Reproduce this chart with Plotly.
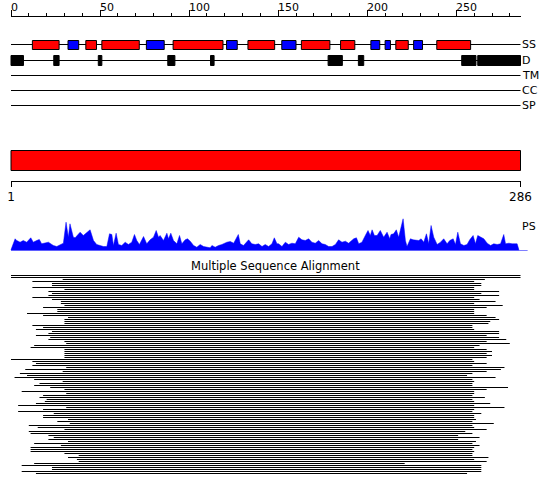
import plotly.graph_objects as go

# ---------------- data ----------------
SEQ_LEN = 286

track_names = ["SS", "D", "TM", "CC", "SP"]

helix_start = [13, 43, 52, 92, 134, 164, 186, 217, 240]
helix_end = [27, 48, 72, 119, 148, 179, 193, 223, 258]
strand_start = [33, 77, 122, 153, 203, 211, 227]
strand_end = [38, 86, 127, 160, 207, 213, 231]
disorder_start = [1, 25, 50, 89, 113, 179, 196, 254, 263]
disorder_end = [7, 27, 51, 92, 114, 186, 198, 261, 286]

ruler_major = [0, 50, 100, 150, 200, 250]
ruler_minor = [10, 20, 30, 40, 60, 70, 80, 90, 110, 120, 130, 140, 160, 170, 180,
               190, 210, 220, 230, 240, 260, 270, 280]
range_ticks = [0, SEQ_LEN]
range_labels = ["1", "286"]

ps_pos = [0.0, 2.3, 3.2, 5.1, 6.9, 8.8, 11.1, 12.5, 14.4, 15.9, 17.2, 19.1, 21.0, 22.9,
          23.8, 25.7, 27.5, 29.4, 30.9, 32.2, 33.1, 34.1, 35.0, 36.0, 37.3, 38.8, 40.6,
          42.1, 44.4, 46.3, 48.1, 50.0, 51.9, 53.8, 55.3, 56.6, 57.5, 59.0, 60.3, 62.2,
          64.1, 65.9, 67.8, 69.3, 70.6, 72.1, 74.4, 76.2, 78.1, 80.0, 81.5, 82.8, 83.7,
          85.6, 87.5, 88.4, 89.7, 91.2, 93.1, 94.6, 95.9, 97.8, 99.1, 100.6, 102.5, 104.3,
          106.2, 108.1, 110.0, 111.8, 112.8, 114.6, 116.5, 118.4, 121.2, 123.1, 125.0,
          127.6, 128.7, 130.5, 133.4, 135.2, 137.1, 139.0, 140.9, 142.7, 144.6, 146.5,
          147.8, 149.3, 150.2, 152.1, 154.0, 155.8, 157.7, 159.6, 161.5, 163.3, 165.2,
          167.1, 168.9, 170.8, 172.7, 174.6, 176.4, 178.3, 180.2, 182.1, 183.9, 185.8,
          187.7, 189.5, 192.4, 193.9, 195.2, 197.0, 198.9, 200.4, 201.7, 202.7, 204.0,
          205.5, 207.3, 209.2, 211.1, 212.6, 213.3, 214.8, 216.3, 217.6, 220.1, 221.4,
          222.3, 224.2, 225.7, 227.6, 228.9, 230.2, 231.7, 233.2, 234.5, 235.8, 237.3,
          239.2, 241.1, 242.9, 244.8, 246.3, 248.2, 249.5, 250.8, 252.3, 254.2, 256.0,
          257.5, 259.4, 260.7, 262.0, 263.5, 265.4, 267.3, 269.2, 271.0, 272.9, 274.8,
          276.6, 277.6, 279.5, 281.3, 284.1, 285.1]
ps_val = [0.7, 11.7, 10, 8.3, 10, 8.3, 12.7, 8.3, 10, 11, 6.7, 7.3, 8.3, 6,
          5, 4, 6, 7.3, 28.3, 13.3, 26.7, 18.3, 13.3, 12.7, 15, 18.3, 15,
          17.3, 20.7, 10, 6, 5, 4, 4, 16.7, 16, 5, 17.3, 6, 5,
          8.3, 6, 8.3, 16, 10, 6, 14, 6.7, 10.7, 13.3, 20, 13.3, 15,
          10, 17.3, 11.7, 17.3, 10, 6.7, 15, 6.7, 10.7, 11.7, 9.3, 5, 3.3,
          6, 4, 3.3, 2.7, 5, 3.3, 5, 6, 8.3, 9, 7.3,
          16, 6.7, 5, 10.7, 6.7, 6, 6.7, 4, 6, 4, 6.7,
          12.7, 6.7, 6.7, 4, 8.3, 6, 7.3, 6.7, 13.3, 10.7, 10,
          11.7, 8.3, 7.3, 10, 6.7, 6, 4, 4, 6, 10.7, 8.3,
          9.3, 7.3, 11.7, 12.7, 6.7, 8.3, 15, 20, 15, 20.7, 15,
          15, 20, 13.3, 18.3, 11.7, 16, 16.7, 20.7, 13.3, 31.7, 10,
          4, 11.7, 10.7, 10, 10, 11.7, 8.3, 16.7, 6.7, 25, 13.3,
          6, 8.3, 11.7, 6.7, 10, 11.7, 6, 18.3, 6.7, 5, 6,
          10.7, 15, 6.7, 15, 13.3, 11.7, 7.3, 5, 6.7, 6, 6.7,
          16, 6.7, 7.3, 6.7, 6.7, 0.7]

msa_start = [1, 1, 30, 13, 24, 24, 13, 31, 22, 24, 22, 13, 24, 29, 29, 31, 19, 27, 27, 10,
             19, 33, 31, 31, 31, 13, 19, 15, 24, 22, 15, 23, 22, 31, 32, 14, 12, 31, 31, 31,
             31, 31, 1, 13, 15, 13, 32, 9, 30, 6,
             10, 3, 14, 30, 17, 14, 23, 31, 7, 32, 19, 17, 21, 20, 15, 5, 32, 19, 5, 25,
             19, 19, 33, 27, 34, 11, 16, 31, 11, 12, 22, 25, 22, 33, 14, 29, 12, 12, 12, 31,
             39, 33, 38, 39, 14, 7, 24, 24, 7, 15]
msa_end = [286, 286, 266, 260, 264, 264, 260, 260, 274, 264, 274, 260, 263, 272, 260, 276,
           267, 260, 260, 260, 267, 272, 274, 269, 268, 259, 259, 260, 274, 274, 267, 274,
           278, 267, 280, 263, 260, 267, 270, 267, 270, 267, 259, 260, 267, 259, 277, 275,
           267, 259,
           256, 272, 259, 260, 259, 259, 279, 267, 260, 260, 259, 266, 259, 260, 269, 260,
           277, 260, 259, 264, 260, 260, 261, 259, 271, 259, 260, 267, 255, 259, 251, 263,
           251, 261, 259, 263, 260, 259, 260, 259, 259, 268, 260, 267, 221, 264, 264, 264,
           264, 256]

# ---------------- layout constants (pixels) ----------------
W, H = 550, 495
X0_PX, X1_PX = 11.0, 520.5
PX_PER_RES = (X1_PX - X0_PX) / SEQ_LEN
X_RANGE = [-X0_PX / PX_PER_RES, (W - X0_PX) / PX_PER_RES]
RULER_Y = 15.5
TRACK_Y = [44.5, 60.5, 75.5, 90.5, 105.5]
SS_BOX = (40.5, 49.5)
D_BOX = (55.5, 65.5)
BAR_BOX = (150.5, 170.5)
RANGE_Y = 180.5
PS_BASE, PS_TOP, PS_MAX = 250.5, 210.5, 40
PS_BASE_END = 290
PS_LABEL_Y = 226.5
MSA_TITLE_Y = 265.5
MSA_TOP, MSA_ROW_PX = 274.5, 2
FONT = "DejaVu Sans"
RED, BLUE, BLACK = "#ff0000", "#0000ff", "#000000"


def frac(py):
    return 1 - py / H


fig = go.Figure()

# track lines
for name, ty in zip(track_names, TRACK_Y):
    fig.add_trace(go.Scatter(x=[0, SEQ_LEN], y=[ty, ty], mode="lines",
                             line=dict(color=BLACK, width=1), hoverinfo="skip",
                             showlegend=False))
    fig.add_annotation(x=SEQ_LEN, y=ty, xref="x", yref="y", text=name, showarrow=False,
                       xanchor="left", yanchor="middle", xshift=-1,
                       font=dict(family=FONT, size=11, color=BLACK))

shapes = []
for s, e in zip(helix_start, helix_end):
    shapes.append(dict(type="rect", xref="x", yref="y", x0=s - 1, x1=e, y0=SS_BOX[0],
                       y1=SS_BOX[1], fillcolor=RED, line=dict(color=BLACK, width=1)))
for s, e in zip(strand_start, strand_end):
    shapes.append(dict(type="rect", xref="x", yref="y", x0=s - 1, x1=e, y0=SS_BOX[0],
                       y1=SS_BOX[1], fillcolor=BLUE, line=dict(color=BLACK, width=1)))
for s, e in zip(disorder_start, disorder_end):
    shapes.append(dict(type="rect", xref="x", yref="y", x0=s - 1, x1=e, y0=D_BOX[0],
                       y1=D_BOX[1], fillcolor=BLACK, line=dict(color=BLACK, width=1)))
shapes.append(dict(type="rect", xref="x", yref="y", x0=0, x1=SEQ_LEN, y0=BAR_BOX[0],
                   y1=BAR_BOX[1], fillcolor=RED, line=dict(color=BLACK, width=1)))

# top ruler labels
for v in ruler_major:
    fig.add_annotation(x=v, y=7, xref="x2", yref="y", text=str(v), showarrow=False,
                       xanchor="left", yanchor="middle", xshift=-2,
                       font=dict(family=FONT, size=11, color=BLACK))

# dummy traces to bind ruler axes
fig.add_trace(go.Scatter(x=[0, SEQ_LEN], y=[None, None], xaxis="x2", yaxis="y",
                         mode="lines", showlegend=False, hoverinfo="skip"))
fig.add_trace(go.Scatter(x=[0, SEQ_LEN], y=[None, None], xaxis="x3", yaxis="y",
                         mode="lines", showlegend=False, hoverinfo="skip"))

# PS profile
fig.add_trace(go.Scatter(x=[0, PS_BASE_END], y=[0, 0], xaxis="x", yaxis="y2", mode="lines",
                         line=dict(color=BLUE, width=1), showlegend=False, hoverinfo="skip"))
fig.add_trace(go.Scatter(x=ps_pos, y=ps_val, xaxis="x", yaxis="y2", mode="lines",
                         fill="tozeroy", fillcolor=BLUE, line=dict(color=BLUE, width=0.5),
                         showlegend=False, hoverinfo="skip"))
fig.add_annotation(x=SEQ_LEN, y=PS_LABEL_Y, xref="x", yref="y", text="PS", showarrow=False,
                   xanchor="left", yanchor="middle", xshift=-1,
                   font=dict(family=FONT, size=11, color=BLACK))

# MSA
mx, my = [], []
for i, (s, e) in enumerate(zip(msa_start, msa_end), start=1):
    mx += [s - 1, e, None]
    my += [i, i, None]
fig.add_trace(go.Scatter(x=mx, y=my, xaxis="x", yaxis="y3", mode="lines",
                         line=dict(color=BLACK, width=1), showlegend=False, hoverinfo="skip"))
fig.add_annotation(x=0.5, y=MSA_TITLE_Y, xref="paper", yref="y",
                   text="Multiple Sequence Alignment", showarrow=False,
                   xanchor="center", yanchor="middle",
                   font=dict(family=FONT, size=11.5, color=BLACK))

n_rows = len(msa_start)
msa_bottom = MSA_TOP + n_rows * MSA_ROW_PX

ruler_dom = [X0_PX / W, X1_PX / W]
fig.update_layout(
    width=W, height=H, margin=dict(l=0, r=0, t=0, b=0, autoexpand=False),
    paper_bgcolor="white", plot_bgcolor="rgba(0,0,0,0)",
    shapes=shapes,
    xaxis=dict(domain=[0, 1], range=X_RANGE, visible=False, fixedrange=True),
    yaxis=dict(domain=[0, 1], range=[H, 0], visible=False, fixedrange=True),
    xaxis2=dict(domain=ruler_dom, range=[0, SEQ_LEN], anchor="free", position=frac(RULER_Y),
                side="top", showline=True, linecolor=BLACK, linewidth=1, showgrid=False,
                zeroline=False, ticks="outside", ticklen=6, tickcolor=BLACK, tickwidth=1,
                tickvals=ruler_major, showticklabels=False, automargin=False,
                minor=dict(tickvals=ruler_minor, ticks="outside", ticklen=3,
                           tickcolor=BLACK, tickwidth=1, showgrid=False)),
    xaxis3=dict(domain=ruler_dom, range=[0, SEQ_LEN], anchor="free", position=frac(RANGE_Y),
                side="bottom", showline=True, linecolor=BLACK, linewidth=1, showgrid=False,
                zeroline=False, ticks="outside", ticklen=5, tickcolor=BLACK, tickwidth=1,
                tickvals=range_ticks, ticktext=range_labels, automargin=False,
                tickfont=dict(family=FONT, size=12, color=BLACK)),
    yaxis2=dict(domain=[frac(PS_BASE), frac(PS_TOP)], range=[0, PS_MAX], visible=False,
                fixedrange=True),
    yaxis3=dict(domain=[frac(msa_bottom), frac(MSA_TOP)], range=[n_rows + 0.5, 0.5],
                visible=False, fixedrange=True),
)

fig.write_html(
    "out.html",
    config={"displayModeBar": False, "staticPlot": True},
    post_script="document.body.style.margin='0';document.body.style.overflow='hidden';",
)
